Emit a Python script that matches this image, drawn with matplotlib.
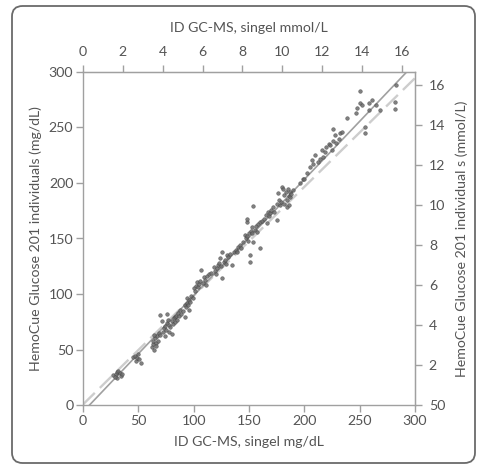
import numpy as np
import matplotlib.pyplot as plt
from matplotlib.patches import FancyBboxPatch

# ID GC-MS (mg/dL) vs HemoCue Glucose 201 (mg/dL)
gcms = [27, 30, 31, 32, 33, 34, 31, 35, 29,
        45, 47, 48, 49, 50, 51, 52,
        62, 63, 63, 64, 65, 66, 67, 68, 64, 69, 70, 66,
        70, 71, 72, 73, 74, 75, 76, 77, 78, 79, 80, 81, 82, 83, 83, 84, 85, 86, 87, 88, 89, 90, 78, 80, 76, 74,
        92, 92, 93, 94, 94, 95, 96, 97, 98, 99, 100, 96,
        101, 102, 103, 104, 105, 106, 107, 108, 109, 110, 112, 114, 111,
        116, 118, 119, 120, 121, 122, 123, 124, 125, 126, 126, 127, 128, 129, 130, 131, 133, 135, 136, 138, 139,
        140, 142, 143, 145, 146, 147, 148, 149, 150, 151, 151, 152, 153, 153, 154, 155, 156, 157, 158, 160, 160, 148, 148, 154,
        162, 164, 165, 166, 167, 168, 169, 170, 172, 173, 175, 175, 176, 177, 178, 179,
        180, 181, 182, 183, 184, 184, 185, 186, 187, 187, 188, 190, 182, 186,
        196, 199, 200, 202, 205, 207, 208, 210, 212, 214,
        216, 217, 219, 220, 222, 223, 225, 226, 226, 228, 229, 232, 234, 231,
        239, 247, 248, 250, 250, 252, 255, 255, 258, 258, 261, 268, 265,
        282, 282, 283]
hemocue = [27, 28, 30, 31, 29, 26, 24, 28, 25,
           43, 44, 40, 42, 46, 41, 38,
           52, 55, 58, 50, 60, 56, 62, 58, 63, 65, 63, 53,
           81, 76, 66, 69, 71, 68, 74, 77, 72, 70, 76, 73, 78, 75, 79, 80, 77, 83, 80, 86, 82, 85, 66, 64, 82, 62,
           79, 90, 88, 96, 92, 90, 95, 93, 98, 96, 105, 86,
           103, 107, 111, 106, 109, 112, 122, 110, 115, 113, 116, 118, 108,
           119, 124, 121, 118, 123, 126, 128, 132, 125, 138, 114, 129, 131, 127, 135, 133, 136, 126, 138, 140, 138,
           142, 144, 141, 147, 153, 150, 152, 148, 155, 135, 129, 157, 155, 160, 147, 158, 161, 156, 163, 141, 165, 165, 168, 179,
           166, 168, 171, 164, 174, 170, 173, 176, 178, 174, 181, 167, 191, 185, 180, 183,
           196, 195, 189, 192, 178, 185, 195, 188, 192, 187, 190, 194, 181, 180,
           200, 204, 204, 209, 214, 221, 217, 225, 219, 222,
           230, 223, 228, 232, 235, 234, 230, 238, 249, 243, 236, 245, 246, 240,
           259, 263, 268, 272, 283, 270, 250, 245, 272, 266, 275, 266, 270,
           273, 267, 288]

# fitted line and reference line (slope, intercept)
fit_line = (1.047, -6.2)
ref_line = (0.98, 0.5)

grey_txt = '#555555'
grey_ax = '#a0a0a0'

plt.rcParams['font.family'] = ['Lato', 'DejaVu Sans']
plt.rcParams['font.size'] = 10.2

fig = plt.figure(figsize=(4.81, 4.69), dpi=100)
ax = fig.add_axes([83 / 481, 1 - 405 / 469, 332 / 481, 333 / 469])

# rounded frame round the whole figure
frame = FancyBboxPatch((12 / 481, 6 / 469), 463 / 481, 457 / 469,
                       boxstyle='round,pad=0,rounding_size=0.022',
                       transform=fig.transFigure, fill=False,
                       edgecolor='#6a6a6a', linewidth=1.3)
fig.patches.append(frame)

xx = np.array([0, 300])
ax.plot(xx, ref_line[0] * xx + ref_line[1], color='#cdcdcd', lw=1.7,
        dashes=(7, 3), zorder=2)
ax.plot(xx, fit_line[0] * xx + fit_line[1], color='#a0a0a0', lw=1.2, zorder=3)
ax.scatter(gcms, hemocue, s=7, marker='o', facecolor='#6a6a6a',
           edgecolor='#3a3a3a', linewidth=0.3, alpha=0.85, zorder=4)

ax.set_xlim(0, 300)
ax.set_ylim(0, 300)
ax.set_xticks(np.arange(0, 301, 50))
ax.set_yticks(np.arange(0, 301, 50))
ax.set_xlabel('ID GC-MS, singel mg/dL', color=grey_txt, labelpad=7)
ax.set_ylabel('HemoCue Glucose 201 individuals (mg/dL)', color=grey_txt, labelpad=5)

for s in ax.spines.values():
    s.set_color(grey_ax)
    s.set_linewidth(1.0)
ax.tick_params(colors=grey_ax, labelcolor=grey_txt, length=5, width=1, pad=2)

top = ax.secondary_xaxis('top', functions=(lambda v: v / 18, lambda v: v * 18))
top.set_xticks(np.arange(0, 17, 2))
top.set_xlabel('ID GC-MS, singel mmol/L', color=grey_txt, labelpad=10)
top.tick_params(colors=grey_ax, labelcolor=grey_txt, length=5, width=1, pad=5)
top.spines['top'].set_color(grey_ax)

right = ax.secondary_yaxis('right', functions=(lambda v: v / 18, lambda v: v * 18))
rticks = np.arange(0, 17, 2)
right.set_yticks(rticks)
right.set_yticklabels(['50'] + [str(t) for t in rticks[1:]])
right.set_ylabel('HemoCue Glucose 201 individual s (mmol/L)', color=grey_txt, labelpad=7)
right.tick_params(colors=grey_ax, labelcolor=grey_txt, length=5, width=1, pad=5)
right.spines['right'].set_color(grey_ax)

fig.savefig('out.png', dpi=100)
